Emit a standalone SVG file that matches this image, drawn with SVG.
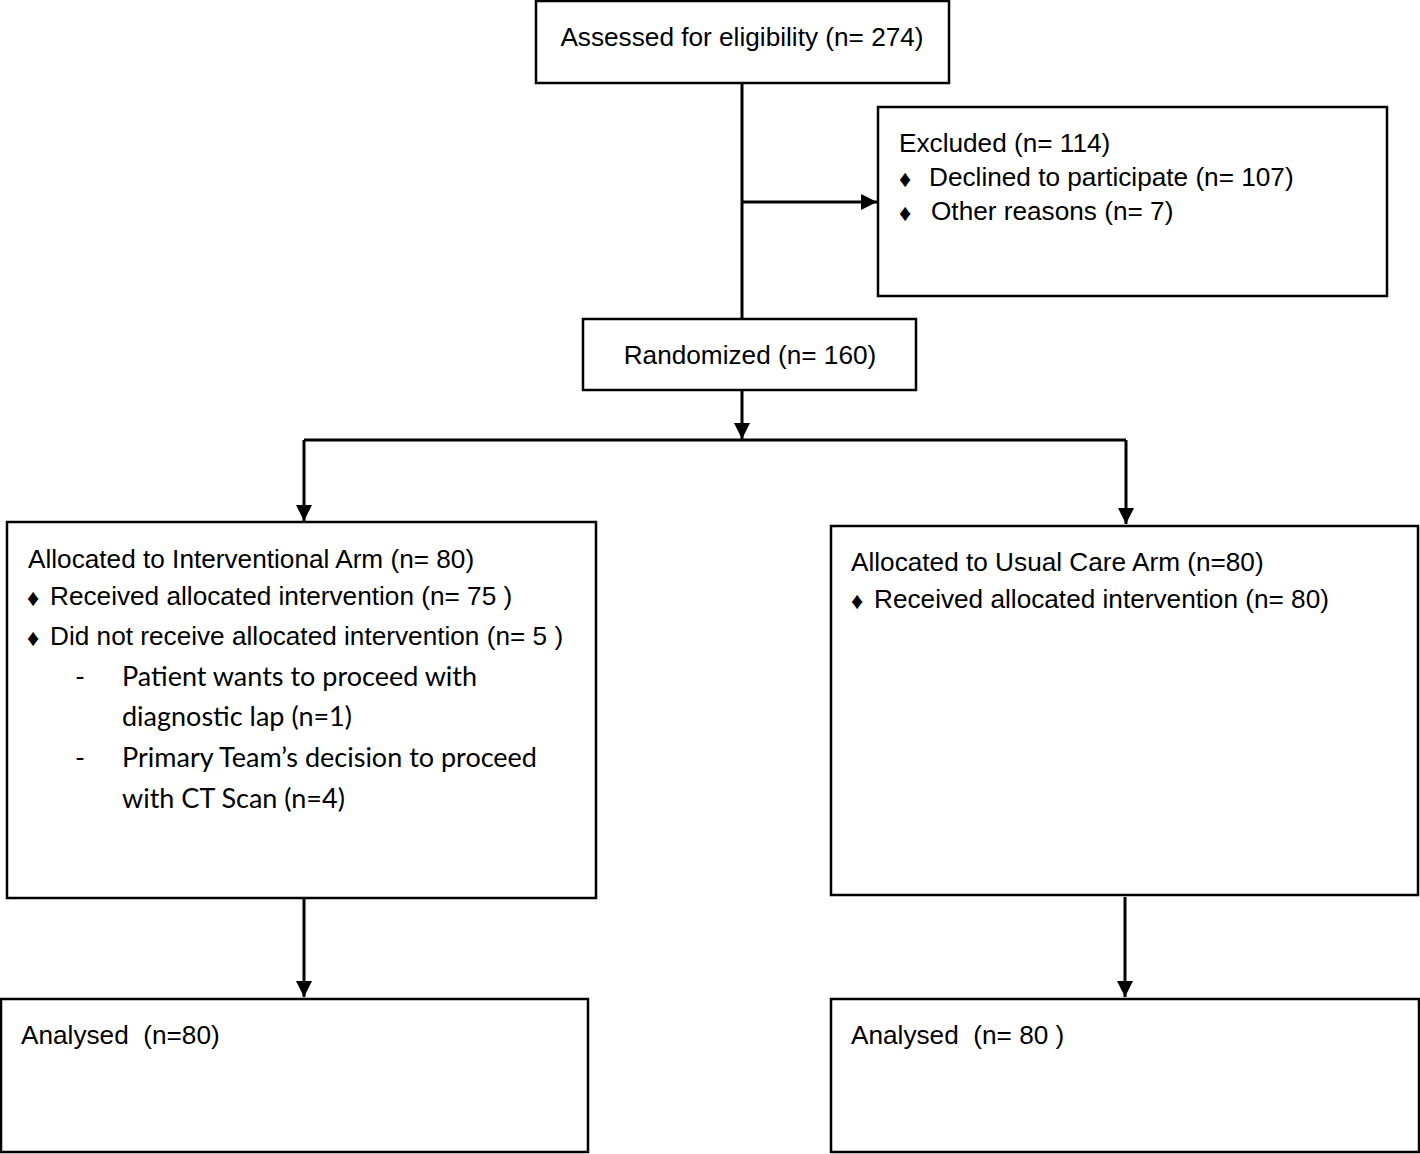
<svg xmlns="http://www.w3.org/2000/svg" width="1420" height="1154" viewBox="0 0 1420 1154">
<defs>
<marker id="ah" viewBox="0 0 10 10" refX="10" refY="5" markerWidth="5.5" markerHeight="5.5" markerUnits="strokeWidth" orient="auto">
<path d="M0,0 L10,5 L0,10 z" fill="#000"/>
</marker>
</defs>
<style>
.box{fill:#fff;stroke:#000;stroke-width:2.5}
.t{font-family:"Liberation Sans",Arial,sans-serif;font-size:26.2px;fill:#000}
.c{font-family:Lato,"Open Sans",sans-serif;font-size:27px;fill:#000}
.b{font-size:24px}
.ln{fill:none;stroke:#000;stroke-width:3}
</style>
<rect width="1420" height="1154" fill="#fff"/>
<g id="connectors">
<line class="ln" x1="742" y1="83" x2="742" y2="319"/>
<line class="ln" x1="742" y1="202" x2="877" y2="202" marker-end="url(#ah)"/>
<line class="ln" x1="742" y1="390" x2="742" y2="439" marker-end="url(#ah)"/>
<polyline class="ln" points="304,440 1126,440"/>
<line class="ln" x1="304" y1="440" x2="304" y2="521" marker-end="url(#ah)"/>
<line class="ln" x1="1126" y1="440" x2="1126" y2="524" marker-end="url(#ah)"/>
<line class="ln" x1="304" y1="895" x2="304" y2="997" marker-end="url(#ah)"/>
<line class="ln" x1="1125" y1="897" x2="1125" y2="997" marker-end="url(#ah)"/>
</g>
<g id="assessed">
<rect class="box" x="536" y="1" width="413" height="82"/>
<text class="t" x="742" y="46" text-anchor="middle">Assessed for eligibility (n= 274)</text>
</g>
<g id="excluded">
<rect class="box" x="878" y="107" width="509" height="189"/>
<text class="t" x="899" y="152">Excluded (n= 114)</text>
<text class="t" x="899" y="187"><tspan class="b">♦</tspan></text>
<text class="t" x="929" y="186">Declined to participate (n= 107)</text>
<text class="t" x="899" y="221"><tspan class="b">♦</tspan></text>
<text class="t" x="931" y="220">Other reasons (n= 7)</text>
</g>
<g id="randomized">
<rect class="box" x="583" y="319" width="333" height="71"/>
<text class="t" x="750" y="364" text-anchor="middle">Randomized (n= 160)</text>
</g>
<g id="interventional">
<rect class="box" x="7" y="522" width="589" height="376"/>
<text class="t" x="28" y="568">Allocated to Interventional Arm (n= 80)</text>
<text class="t" x="27" y="606"><tspan class="b">♦</tspan></text>
<text class="t" x="50" y="605">Received allocated intervention (n= 75 )</text>
<text class="t" x="27" y="646"><tspan class="b">♦</tspan></text>
<text class="t" x="50" y="645">Did not receive allocated intervention (n= 5 )</text>
<text class="c" x="75" y="686">-</text>
<text class="c" x="122" y="686">Patient wants to proceed with</text>
<text class="c" x="122" y="726">diagnostic lap (n=1)</text>
<text class="c" x="75" y="767">-</text>
<text class="c" x="122" y="767">Primary Team’s decision to proceed</text>
<text class="c" x="122" y="808">with CT Scan (n=4)</text>
</g>
<g id="usualcare">
<rect class="box" x="831" y="526" width="587" height="369"/>
<text class="t" x="851" y="571">Allocated to Usual Care Arm (n=80)</text>
<text class="t" x="851" y="609"><tspan class="b">♦</tspan></text>
<text class="t" x="874" y="608">Received allocated intervention (n= 80)</text>
</g>
<g id="analysed-left">
<rect class="box" x="1" y="999" width="587" height="153"/>
<text class="t" x="21" y="1044" xml:space="preserve">Analysed  (n=80)</text>
</g>
<g id="analysed-right">
<rect class="box" x="831" y="999" width="588" height="153"/>
<text class="t" x="851" y="1044" xml:space="preserve">Analysed  (n= 80 )</text>
</g>
</svg>
